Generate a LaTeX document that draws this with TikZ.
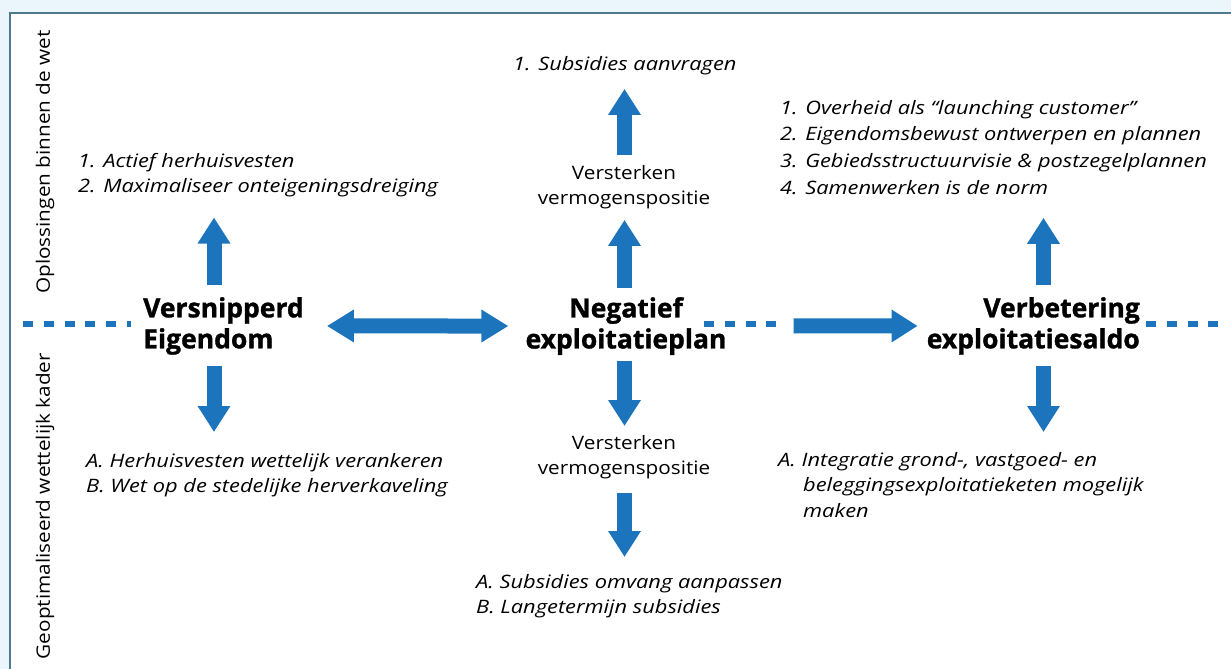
\documentclass[tikz,border=0pt]{standalone}
\usepackage{fontspec}
\setmainfont{Open Sans}
\newfontfamily\lijstfont{Open Sans}[FakeStretch=1.18]
\newfontfamily\tekstfont{Open Sans}[FakeStretch=1.12]
\newfontfamily\titelfont{Open Sans}[BoldFeatures={FakeBold=1.2}]
\usetikzlibrary{arrows.meta}
\definecolor{pijlblauw}{HTML}{1C75BC}
\definecolor{kaderlijn}{HTML}{4E7A8D}
\definecolor{achtergrond}{HTML}{EAF5FC}
\begin{document}
\begin{tikzpicture}[x=1pt,y=-1pt,
  titel/.style={font=\titelfont\fontsize{26.5}{31}\selectfont\bfseries, inner sep=0pt},
  lijst/.style={font=\lijstfont\fontsize{18.5}{25.5}\selectfont\itshape, inner sep=0pt, align=left, anchor=north west},
  tussen/.style={font=\tekstfont\fontsize{18.5}{25}\selectfont, inner sep=0pt, align=center, anchor=north},
  zij/.style={font=\tekstfont\fontsize{18.5}{22}\selectfont, inner sep=0pt, rotate=90},
  pijl/.style={draw=pijlblauw, line width=15pt, -{Triangle[length=26pt,width=31pt]}},
  dubbelpijl/.style={pijl, {Triangle[length=27pt,width=31pt]}-{Triangle[length=27pt,width=31pt]}},
  scheiding/.style={draw=pijlblauw, line width=6pt, dash pattern=on 10pt off 10.8pt}]
\useasboundingbox[fill=achtergrond] (0,0) rectangle (1231,669);
\draw[kaderlijn, line width=2pt, fill=white] (10,13) rectangle (1250,690);

\draw[scheiding] (23,324) -- (131,324);
\draw[scheiding] (704,324) -- (777,324);
\draw[scheiding] (1146,324) -- (1222,324);

\node[zij] (wet) at (45,162) {Oplossingen binnen de wet};
\node[zij] (kader) at (45,506) {Geoptimaliseerd wettelijk kader};

\node[titel, align=left, anchor=north west] (verEig) at (143,297) {Versnipperd\\Eigendom};
\node[titel, align=center, anchor=north] (negExp) at (626,297) {Negatief\\exploitatieplan};
\node[titel, align=right, anchor=north east] (verbExp) at (1140,297) {Verbetering\\exploitatiesaldo};

\node[lijst] (eigUp) at (78,153) {1. Actief herhuisvesten\\2. Maximaliseer onteigeningsdreiging};
\node[lijst] (eigDown) at (86,453) {A. Herhuisvesten wettelijk verankeren\\B. Wet op de stedelijke herverkaveling};

\node[tussen] (versUp) at (624,165) {Versterken\\vermogenspositie};
\node[lijst] (subsUp) at (513,56) {1. Subsidies aanvragen};
\node[tussen] (versDown) at (624,435) {Versterken\\vermogenspositie};
\node[lijst] (subsDown) at (476,574) {A. Subsidies omvang aanpassen\\B. Langetermijn subsidies};

\node[lijst, font=\lijstfont\fontsize{18.5}{26.7}\selectfont\itshape] (saldoUp) at (780,100) {1. Overheid als “launching customer”\\2. Eigendomsbewust ontwerpen en plannen\\3. Gebiedsstructuurvisie \& postzegelplannen\\4. Samenwerken is de norm};
\node[lijst] (saldoDown) at (778,452) {A. Integratie grond-, vastgoed- en\\\hspace*{25pt}beleggingsexploitatieketen mogelijk\\\hspace*{25pt}maken};

\draw[pijl, shorten <=12pt, shorten >=20pt] (214,0 |- verEig.north) -- (214,0 |- eigUp.south);
\draw[pijl, shorten <=11pt, shorten >=21pt] (214,0 |- verEig.south) -- (214,0 |- eigDown.north);
\draw[pijl, shorten <=9pt, shorten >=11pt] (624.5,0 |- negExp.north) -- (624.5,0 |- versUp.south);
\draw[pijl, shorten <=10pt, shorten >=14pt] (624.5,0 |- versUp.north) -- (624.5,0 |- subsUp.south);
\draw[pijl, shorten <=6pt, shorten >=9pt] (624.5,0 |- negExp.south) -- (624.5,0 |- versDown.north);
\draw[pijl, shorten <=14pt, shorten >=17pt] (624.5,0 |- versDown.south) -- (624.5,0 |- subsDown.north);
\draw[pijl, shorten <=12pt, shorten >=23pt] (1043.5,0 |- verbExp.north) -- (1043.5,0 |- saldoUp.south);
\draw[pijl, shorten <=11pt, shorten >=20pt] (1043.5,0 |- verbExp.south) -- (1043.5,0 |- saldoDown.north);
\draw[dubbelpijl, shorten <=23pt, shorten >=17pt] (verEig.east) -- (negExp.west);
\draw[pijl, shorten <=67pt, shorten >=9pt] (negExp.east) -- (verbExp.west);
\end{tikzpicture}
\end{document}
